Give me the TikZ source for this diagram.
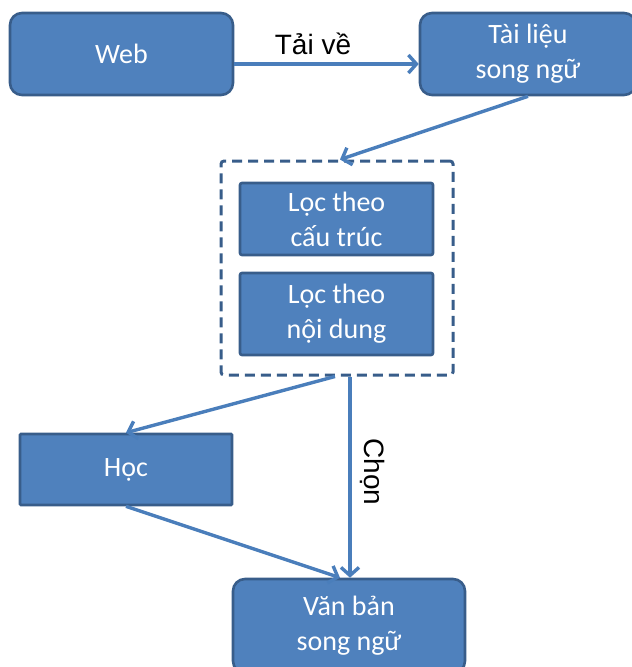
\documentclass[tikz,border=0pt]{standalone}
\usepackage{fontspec}
\setmainfont{Carlito}
\newfontfamily\labelfont{Liberation Sans}
\usetikzlibrary{arrows.meta}
\definecolor{boxfill}{HTML}{4F81BD}
\definecolor{boxline}{HTML}{385D8A}
\definecolor{linkblue}{HTML}{4A7EBB}
\tikzset{
  box/.style={draw=boxline, fill=boxfill, line width=2.6pt, text=white,
    font=\fontsize{28}{35}\selectfont, align=center, inner sep=0pt},
  rbox/.style={box, rounded corners=12pt},
  link/.style={draw=linkblue, line width=3.4pt,
    -{Straight Barb[length=8pt,width=18pt,line width=3.4pt]}},
  lbl/.style={font=\labelfont\fontsize{28}{30}\selectfont, text=black, inner sep=0pt}
}
\begin{document}
\begin{tikzpicture}[x=1pt,y=1pt]
\useasboundingbox (0,0) rectangle (632,-667);
% top row
\node[rbox, minimum width=223pt, minimum height=82pt] (web) at (121.5,-54) {Web};
\node[rbox, minimum width=216pt, minimum height=82pt] (tai) at (528,-54) {Tài liệu\\song ngữ};
% filtering group
\node[draw=boxline, line width=3pt, dash pattern=on 10pt off 6pt, rounded corners=3pt,
  minimum width=232pt, minimum height=214pt] (grp) at (337,-268) {};
\node[box, rounded corners=2pt, minimum width=193pt, minimum height=72pt] (loc1) at (336.5,-219) {Lọc theo\\cấu trúc};
\node[box, rounded corners=2pt, minimum width=193pt, minimum height=82pt] (loc2) at (336.5,-314) {Lọc theo\\nội dung};
% lower nodes
\node[box, rounded corners=1pt, minimum width=212pt, minimum height=71pt] (hoc) at (126,-469.5) {Học};
\node[rbox, minimum width=232pt, minimum height=94pt] (van) at (349,-626) {Văn bản\\song ngữ};
% labels
\node[lbl] (tv) at (313,-44) {Tải về};
\node[lbl, rotate=-90] (chon) at (373,-472) {Chọn};
% connectors
\draw[link] ([yshift=-10pt]web.east) -- ([yshift=-10pt]tai.west);
\draw[link] (tai.south) -- ([xshift=3pt]grp.north);
\draw[link] ([xshift=-2pt]grp.south) -- (hoc.north);
\draw[link] ([xshift=13pt]grp.south) -- ([xshift=1pt]van.north);
\draw[link] (hoc.south) -- ([xshift=-9pt]van.north);
\end{tikzpicture}
\end{document}
